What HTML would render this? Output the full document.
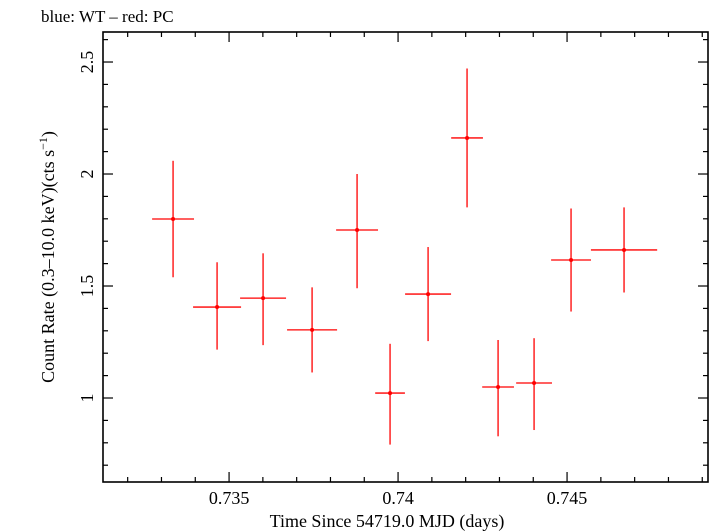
<!DOCTYPE html>
<html><head><meta charset="utf-8">
<style>
html,body{margin:0;padding:0;background:#fff;}
svg{display:block;font-family:"Liberation Serif","DejaVu Serif",serif;}
</style></head>
<body>
<svg id="chart" width="709" height="532" viewBox="0 0 709 532">
<text x="41" y="22" font-size="17">blue: WT – red: PC</text>
<g id="axes"></g>
<g id="series"></g>
<text x="387" y="527" font-size="18" text-anchor="middle">Time Since 54719.0 MJD (days)</text>
<text transform="translate(54,257) rotate(-90)" font-size="18" text-anchor="middle">Count Rate (0.3–10.0 keV)(cts s<tspan font-size="12" dy="-7">−1</tspan><tspan dy="7">)</tspan></text>
</svg>
<script>
const times=[0.733343,0.734645,0.736006,0.737456,0.738787,0.739763,0.740888,0.742041,0.742959,0.744024,0.745118,0.746686];
const timeErr=[0.00062,0.00071,0.00068,0.00074,0.00062,0.00044,0.00068,0.00047,0.00047,0.00053,0.00059,0.00098];
const rates=[1.799,1.406,1.446,1.304,1.75,1.022,1.464,2.161,1.049,1.067,1.616,1.661];
const rateErrHi=[0.26,0.20,0.20,0.19,0.25,0.22,0.21,0.31,0.21,0.20,0.23,0.19];
const rateErrLo=[0.26,0.19,0.21,0.19,0.26,0.23,0.21,0.31,0.22,0.21,0.23,0.19];
const xTicks=["0.735","0.74","0.745"];
const yTicks=["1","1.5","2","2.5"];

const L=103,R=708,T=32,B=482;
const X0=0.73127,X1=0.74917,Y0=0.625,Y1=2.634;
const sx=v=>L+(v-X0)/(X1-X0)*(R-L);
const sy=v=>B-(v-Y0)/(Y1-Y0)*(B-T);
const NS="http://www.w3.org/2000/svg";
function mk(tag,attrs,parent){const e=document.createElementNS(NS,tag);for(const k in attrs)e.setAttribute(k,attrs[k]);parent.appendChild(e);return e;}
const ax=document.getElementById('axes');
const fr=mk('rect',{x:L,y:T,width:R-L,height:B-T,fill:'none',stroke:'#000','stroke-width':1.6},ax);


for(let i=Math.ceil(X0*1000);i<=Math.floor(X1*1000);i++){
  const v=i/1000,x=sx(v),maj=(i%5===0),len=maj?10:5;
  const t1=mk('line',{x1:x,y1:B,x2:x,y2:B-len,stroke:'#000','stroke-width':1.2},ax);
  
  
  const t2=mk('line',{x1:x,y1:T,x2:x,y2:T+len,stroke:'#000','stroke-width':1.2},ax);
  
  
}
xTicks.forEach(s=>{
  const t=mk('text',{x:sx(parseFloat(s)),y:B+22,'font-size':18,'text-anchor':'middle'},ax);
  t.textContent=s;
  
  
});
for(let i=Math.ceil(Y0*10);i<=Math.floor(Y1*10);i++){
  const v=i/10,y=sy(v),maj=(i%5===0),len=maj?10:5;
  const t1=mk('line',{x1:L,y1:y,x2:L+len,y2:y,stroke:'#000','stroke-width':1.2},ax);
  
  
  const t2=mk('line',{x1:R,y1:y,x2:R-len,y2:y,stroke:'#000','stroke-width':1.2},ax);
  
  
}
yTicks.forEach(s=>{
  const y=sy(parseFloat(s));
  const t=mk('text',{transform:`translate(${L-10},${y}) rotate(-90)`,'font-size':18,'text-anchor':'middle'},ax);
  t.textContent=s;
  
  
});
const sg=document.getElementById('series');
times.forEach((t,i)=>{
  const g=mk('g',{},sg);
  
  
  const x=sx(t),y=sy(rates[i]);
  mk('line',{x1:sx(t-timeErr[i]),y1:y,x2:sx(t+timeErr[i]),y2:y,stroke:'#f00','stroke-width':1.3},g);
  mk('line',{x1:x,y1:sy(rates[i]+rateErrHi[i]),x2:x,y2:sy(rates[i]-rateErrLo[i]),stroke:'#f00','stroke-width':1.3},g);
  mk('circle',{cx:x,cy:y,r:2,fill:'#f00'},g);
});
</script>
</body></html>
